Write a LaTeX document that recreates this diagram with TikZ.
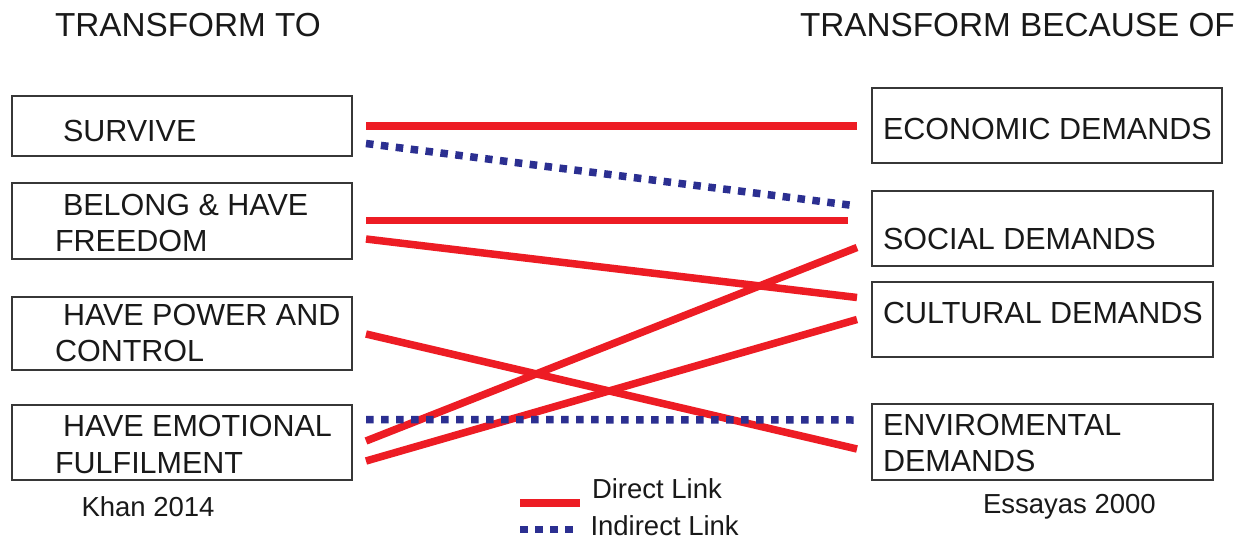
\documentclass[tikz,border=0pt]{standalone}
\usepackage{fontspec}
\setmainfont{Liberation Sans}
\definecolor{linkred}{RGB}{237,28,36}
\definecolor{linkblue}{RGB}{43,47,145}
\definecolor{boxgray}{RGB}{55,55,55}
\definecolor{ink}{RGB}{25,25,25}
\begin{document}
\begin{tikzpicture}[x=1pt,y=-1pt,
  box/.style={draw=boxgray, line width=2pt, inner sep=0pt, outer sep=0pt},
  lbox/.style={box, minimum width=340pt},
  txt/.style={inner sep=0pt, outer sep=0pt, anchor=base west, text=ink,
              font=\fontsize{30.5}{36}\selectfont},
  note/.style={txt, font=\fontsize{27.5}{33}\selectfont},
  head/.style={txt, font=\fontsize{33.3}{40}\selectfont},
  direct/.style={draw=linkred, line width=7.5pt},
  indirect/.style={draw=linkblue, line width=7.5pt, dash pattern=on 7.5pt off 7.5pt},
]
\useasboundingbox[fill=white] (0,0) rectangle (1240,541);

% column headings
\node[head] (hl) at (55,36) {TRANSFORM TO};
\node[head] (hr) at (800,36) {TRANSFORM BECAUSE OF};

% left column: what people transform to
\node[lbox, minimum height=60pt] (surv)   at (182,126)   {};
\node[lbox, minimum height=76pt] (belong) at (182,221)   {};
\node[lbox, minimum height=73pt] (power)  at (182,333.5) {};
\node[lbox, minimum height=75pt] (emot)   at (182,442.5) {};

\node[txt] (survT)  at (63,141.7) {SURVIVE};
\node[txt] (belT1)  at (63,215)   {BELONG \& HAVE};
\node[txt] (belT2)  at (55,251.7) {FREEDOM};
\node[txt] (powT1)  at (63,325)   {HAVE POWER AND};
\node[txt] (powT2)  at (55,361.7) {CONTROL};
\node[txt] (emoT1)  at (63,436.7) {HAVE EMOTIONAL};
\node[txt] (emoT2)  at (55,473.3) {FULFILMENT};
\node[note] (khan)  at (81.5,516.5) {Khan 2014};

% right column: what people transform because of
\node[box, minimum width=350pt, minimum height=75pt] (econ)   at (1047,125.5)   {};
\node[box, minimum width=341pt, minimum height=75pt] (social) at (1042.5,228.5) {};
\node[box, minimum width=341pt, minimum height=75pt] (cult)   at (1042.5,319.5) {};
\node[box, minimum width=341pt, minimum height=76pt] (env)    at (1042.5,442)   {};

\node[txt] (econT)  at (883,139.3) {ECONOMIC DEMANDS};
\node[txt] (socT)   at (883,249.3) {SOCIAL DEMANDS};
\node[txt] (culT)   at (883,323.3) {CULTURAL DEMANDS};
\node[txt] (envT1)  at (883,435)   {ENVIROMENTAL};
\node[txt] (envT2)  at (883,471.7) {DEMANDS};
\node[note] (essay) at (983,513.5) {Essayas 2000};

% links
\draw[direct]   ([shift={(14,0)}]surv.east)      -- ([shift={(-15,0.5)}]econ.west);
\draw[indirect] ([shift={(14,17.5)}]surv.east)   -- ([shift={(-15,-22.5)}]social.west);
\draw[direct]   ([shift={(14,-0.5)}]belong.east) -- ([shift={(-24,-8)}]social.west);
\draw[direct]   ([shift={(14,18)}]belong.east)   -- ([shift={(-15,-22)}]cult.west);
\draw[direct]   ([shift={(14,0.5)}]power.east)   -- ([shift={(-15,7)}]env.west);
\draw[direct]   ([shift={(14,-1.5)}]emot.east)   -- ([shift={(-15,19)}]social.west);
\draw[direct]   ([shift={(14,18.5)}]emot.east)   -- ([shift={(-15,0)}]cult.west);
\draw[indirect] ([shift={(14,-23)}]emot.east)    -- ([shift={(-15,-22)}]env.west);

% legend
\coordinate (dA) at (520,503);
\coordinate (dB) at (580,503);
\coordinate (iA) at (520,529.5);
\coordinate (iB) at (572.5,529.5);
\draw[direct]   (dA) -- (dB);
\draw[indirect] (iA) -- (iB);
\node[note] (dT) at (592,498.3) {Direct Link};
\node[note] (iT) at (590.5,535.7) {Indirect Link};
\end{tikzpicture}
\end{document}
